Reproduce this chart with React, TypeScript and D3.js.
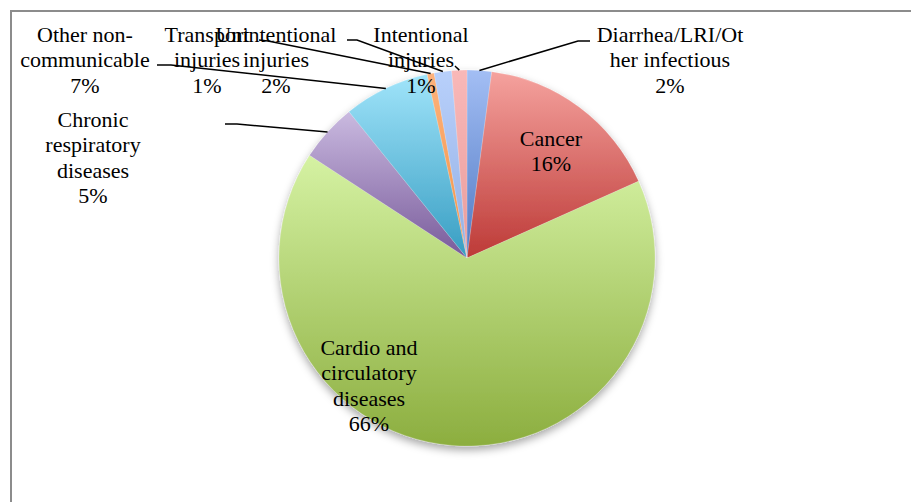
import { select, pie, arc, PieArcDatum } from "d3";
import { useEffect, useRef } from "react";

// values, in drawing order (clockwise from 12 o'clock)
const categories = [
  "Diarrhea/LRI/Other infectious",
  "Cancer",
  "Cardio and circulatory diseases",
  "Chronic respiratory diseases",
  "Other non-communicable",
  "Transport injuries",
  "Unintentional injuries",
  "Intentional injuries",
];
const values = [2.1, 16.2, 65.9, 5.0, 7.4, 0.6, 1.5, 1.3];

// how Excel wrapped the category names
const labelLines = [
  ["Diarrhea/LRI/Ot", "her infectious"],
  ["Cancer"],
  ["Cardio and", "circulatory", "diseases"],
  ["Chronic", "respiratory", "diseases"],
  ["Other non-", "communicable"],
  ["Transport", "injuries"],
  ["Unintentional", "injuries"],
  ["Intentional", "injuries"],
];

// gradient top / bottom per slice
const sliceColors = [
  ["#a3bef4", "#4f78c2"],
  ["#f5a29e", "#bd3a37"],
  ["#d5f2a3", "#8cae3f"],
  ["#cabae0", "#785a9a"],
  ["#a0e4fa", "#379dc2"],
  ["#fdb27c", "#f29243"],
  ["#b8d0fb", "#93afe3"],
  ["#f9b8b8", "#e89c9c"],
];

// label anchors (centre x, first baseline) and leader line starts
const labelPos = [
  { x: 670, y: 42, lead: [[590, 41], [578, 41]] },
  { x: 551, y: 146, lead: null },
  { x: 369, y: 355, lead: null },
  { x: 93, y: 127, lead: [[225, 124], [237, 124]] },
  { x: 85, y: 42, lead: [[157, 65], [171, 65]] },
  { x: 207, y: 42, lead: [[259, 40], [268, 41]] },
  { x: 276, y: 42, lead: [[347, 40], [357, 40]] },
  { x: 421, y: 42, lead: [[455, 66], [456, 67]] },
];

const width = 911,
  height = 502;
const cx = 467,
  cy = 258,
  radius = 188;
const lineHeight = 25.3;
const fontFamily =
  "'Liberation Serif', 'DejaVu Serif', 'Noto Serif', 'Times New Roman', Times, serif";

export default function App() {
  const ref = useRef<SVGSVGElement>(null);

  useEffect(() => {
    if (!ref.current) return;
    const svg = select(ref.current);
    svg.selectAll("*").remove();

    const defs = svg.append("defs");
    sliceColors.forEach((c, i) => {
      const g = defs
        .append("linearGradient")
        .attr("id", "grad" + i)
        .attr("x1", 0)
        .attr("y1", 0)
        .attr("x2", 0)
        .attr("y2", 1);
      g.append("stop").attr("offset", "0%").attr("stop-color", c[0]);
      g.append("stop").attr("offset", "100%").attr("stop-color", c[1]);
    });
    const shadow = defs
      .append("filter")
      .attr("id", "shadow")
      .attr("x", "-20%")
      .attr("y", "-20%")
      .attr("width", "140%")
      .attr("height", "140%");
    shadow
      .append("feDropShadow")
      .attr("dx", 0)
      .attr("dy", 4)
      .attr("stdDeviation", 4)
      .attr("flood-color", "#000")
      .attr("flood-opacity", 0.35);

    // chart area border (runs off the right and bottom)
    svg
      .append("rect")
      .attr("x", 11)
      .attr("y", 11)
      .attr("width", 1000)
      .attr("height", 1000)
      .attr("fill", "none")
      .attr("stroke", "#8c8c8c")
      .attr("stroke-width", 2);

    const data = values.map((v, i) => ({ name: categories[i], value: v, i }));
    type D = (typeof data)[number];
    const arcs = pie<D>()
      .sort(null)
      .value((d) => d.value)(data);

    const sliceArc = arc<PieArcDatum<D>>().innerRadius(0).outerRadius(radius);
    const edgeArc = arc<PieArcDatum<D>>().innerRadius(radius).outerRadius(radius);

    const chart = svg.append("g").attr("transform", `translate(${cx},${cy})`);

    const slices = chart.append("g").attr("filter", "url(#shadow)");
    slices
      .selectAll("path")
      .data(arcs)
      .enter()
      .append("path")
      .attr("d", (d) => sliceArc(d) as string)
      .attr("fill", (d) => `url(#grad${d.data.i})`)
      .attr("stroke", "rgba(255,255,255,0.35)")
      .attr("stroke-width", 0.5);

    // leader lines
    arcs.forEach((d) => {
      const p = labelPos[d.data.i];
      if (!p.lead) return;
      const [ex, ey] = edgeArc.centroid(d);
      const pts = [...p.lead, [ex + cx, ey + cy]];
      svg
        .append("polyline")
        .attr("points", pts.map((q) => q.join(",")).join(" "))
        .attr("fill", "none")
        .attr("stroke", "#000")
        .attr("stroke-width", 1.5);
    });

    // labels
    arcs.forEach((d) => {
      const p = labelPos[d.data.i];
      const lines = [...labelLines[d.data.i], Math.round(d.data.value) + "%"];
      const t = svg
        .append("text")
        .attr("text-anchor", "middle")
        .style("font-family", fontFamily)
        .style("font-size", "22px")
        .attr("fill", "#000");
      lines.forEach((l, k) => {
        t.append("tspan")
          .attr("x", p.x)
          .attr("y", p.y + k * lineHeight)
          .text(l);
      });
    });
  }, []);

  return (
    <svg
      ref={ref}
      width={width}
      height={height}
      style={{ position: "absolute", left: 0, top: 0, background: "#fff" }}
    />
  );
}
